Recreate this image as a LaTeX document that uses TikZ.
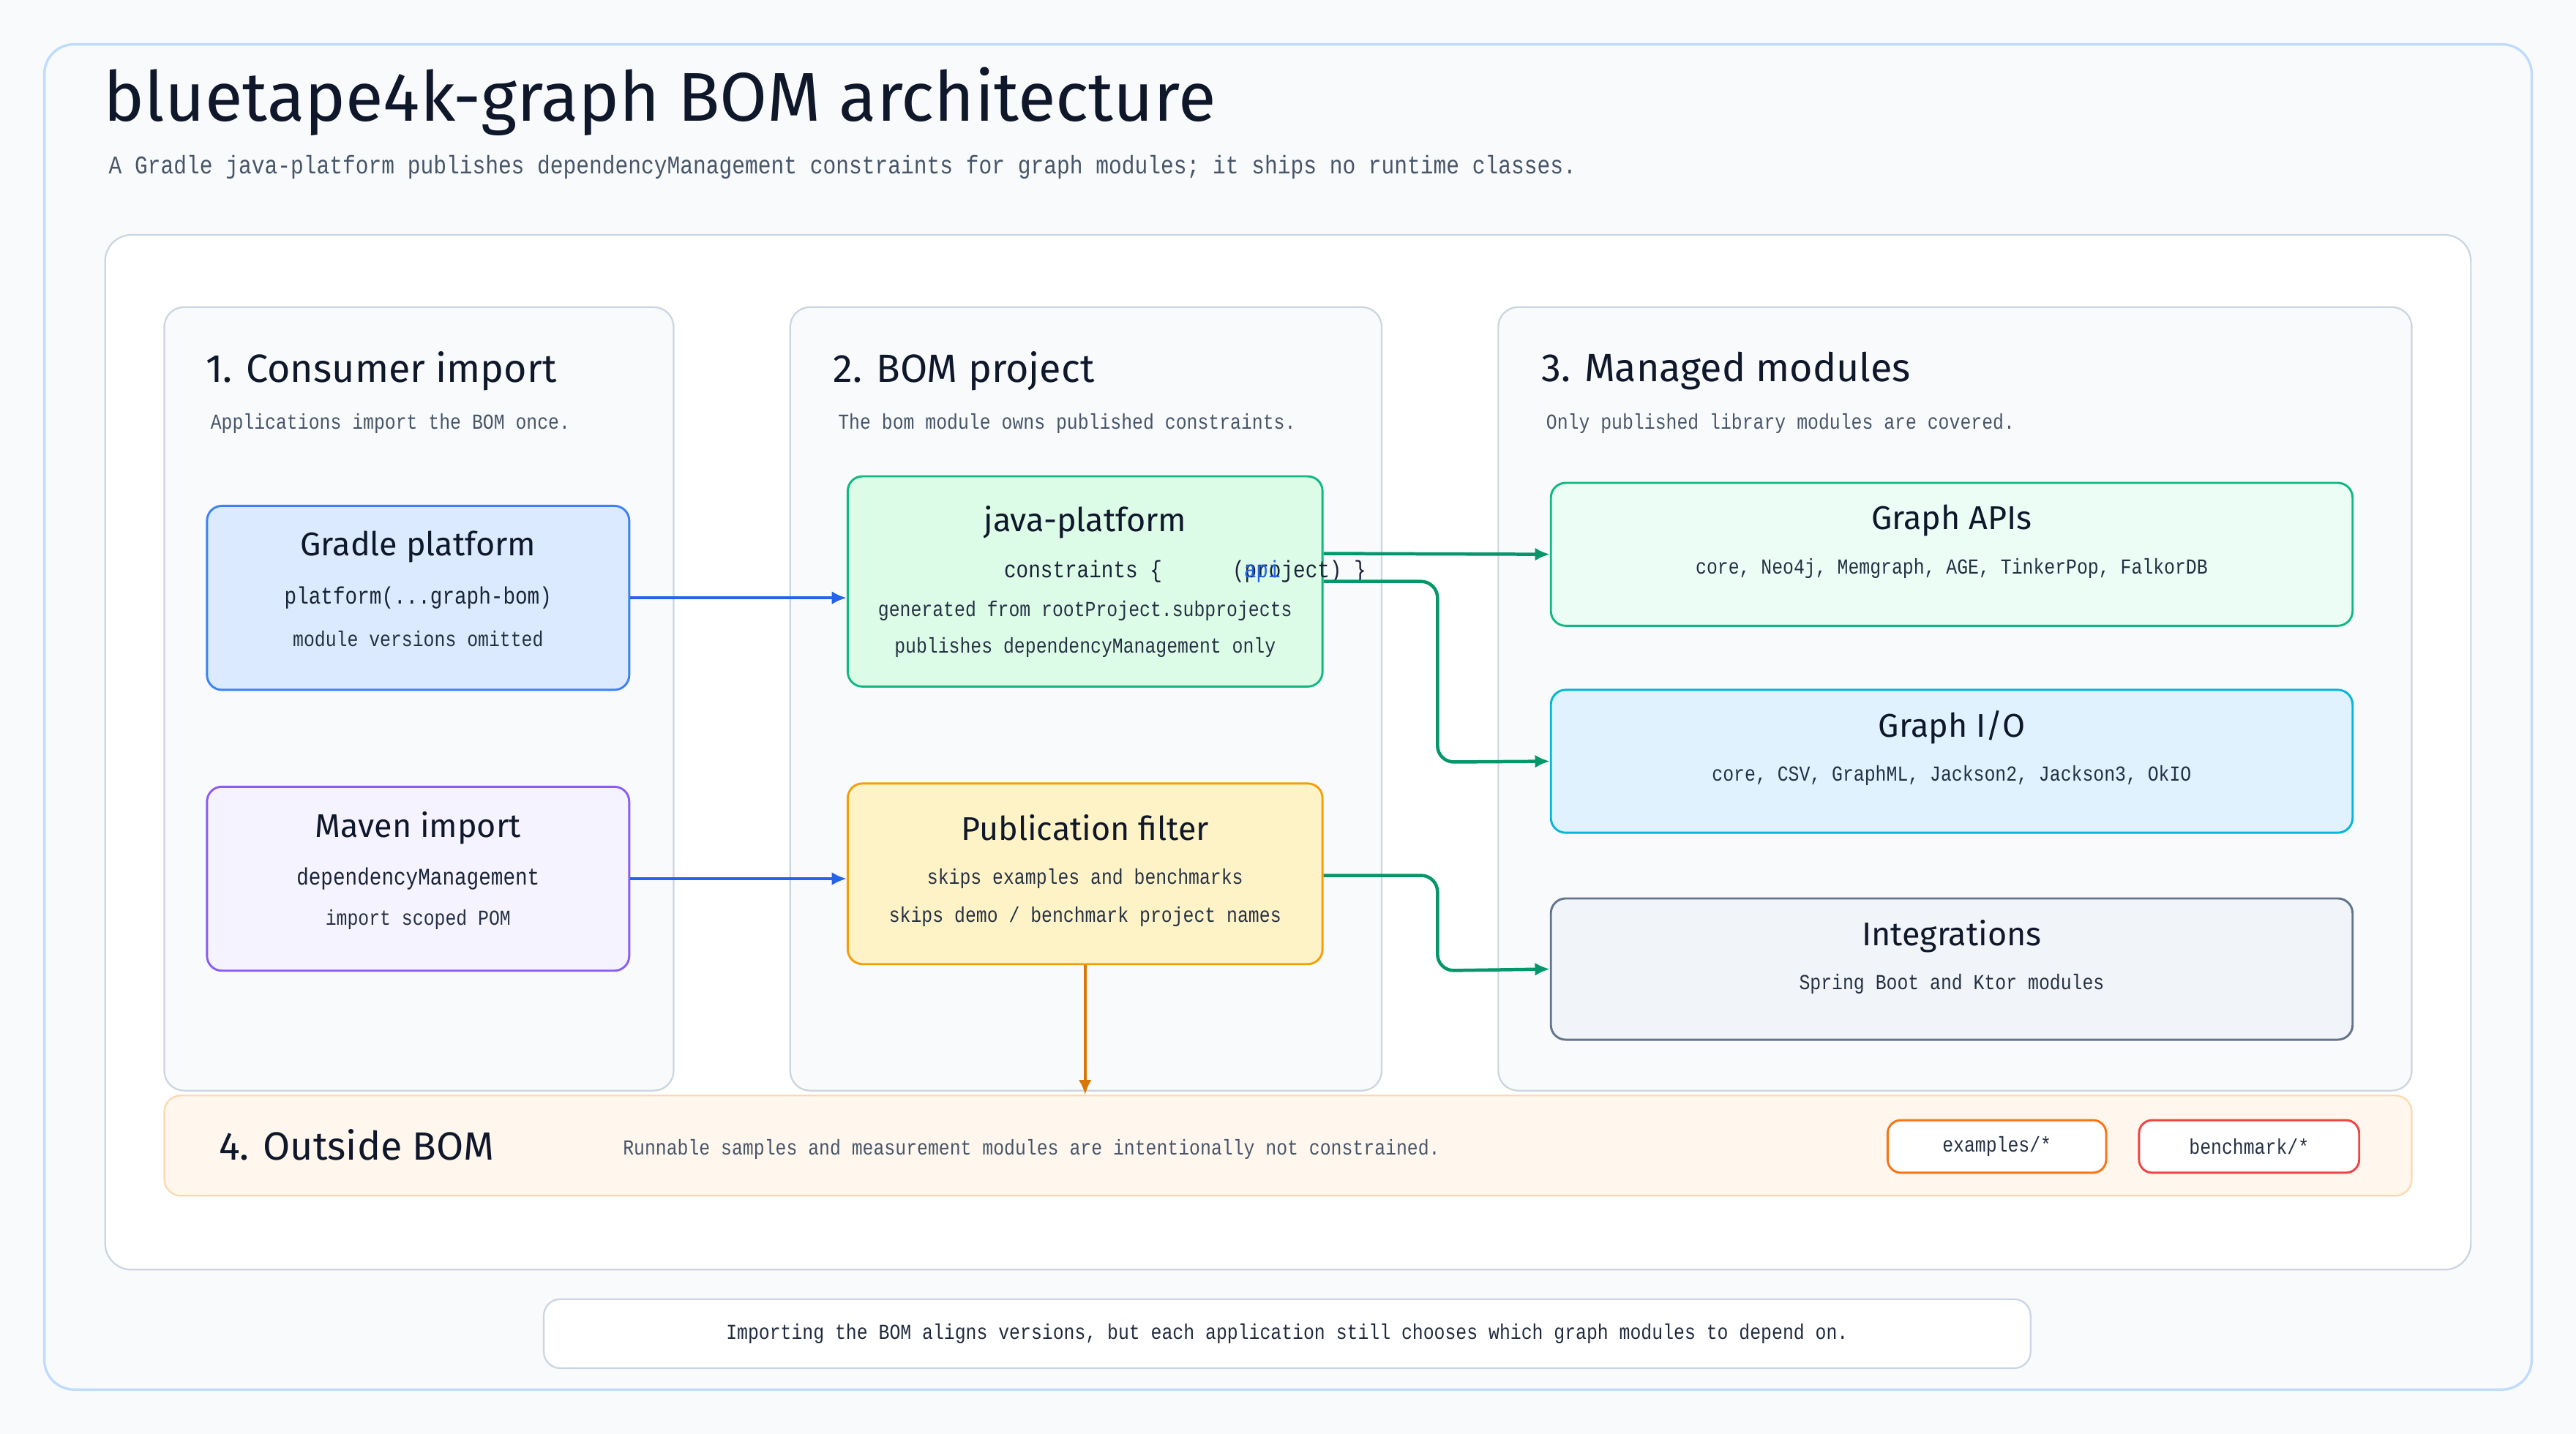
\documentclass[tikz,border=0pt]{standalone}
\usepackage{fontspec}
\setmainfont{Fira Sans}
\newfontfamily\hand{Fira Sans}
\newfontfamily\mono[FakeStretch=0.85]{Liberation Mono}
\usetikzlibrary{arrows.meta}
\definecolor{ink}{HTML}{0F172A}
\definecolor{sub}{HTML}{475569}
\definecolor{line}{HTML}{CBD5E1}
\definecolor{bg}{HTML}{F8FAFC}
\definecolor{frame}{HTML}{BFDBFE}
\definecolor{ablue}{HTML}{2563EB}
\definecolor{agreen}{HTML}{059669}
\definecolor{aorange}{HTML}{D97706}
\definecolor{bBlue}{HTML}{3B82F6}\definecolor{fBlue}{HTML}{DBEAFE}
\definecolor{bViolet}{HTML}{8B5CF6}\definecolor{fViolet}{HTML}{F5F3FF}
\definecolor{bGreen}{HTML}{10B981}\definecolor{fGreen}{HTML}{DCFCE7}
\definecolor{fMint}{HTML}{ECFDF5}
\definecolor{bAmber}{HTML}{F59E0B}\definecolor{fAmber}{HTML}{FEF3C7}
\definecolor{bCyan}{HTML}{06B6D4}\definecolor{fCyan}{HTML}{E0F2FE}
\definecolor{bSlate}{HTML}{64748B}\definecolor{fSlate}{HTML}{F1F5F9}
\definecolor{bPeach}{HTML}{FED7AA}\definecolor{fPeach}{HTML}{FFF7ED}
\definecolor{bOrange}{HTML}{F97316}\definecolor{bRed}{HTML}{EF4444}
\tikzset{
  box/.style={draw, rounded corners=9pt, line width=1.3pt, inner sep=0},
  col/.style={draw=line, fill=bg, rounded corners=12pt, line width=1pt},
  ttl/.style={font=\hand\fontsize{20}{22}\selectfont, text=ink, inner sep=0},
  hd/.style={font=\hand\fontsize{24}{28}\selectfont, text=ink, anchor=west, inner sep=0},
  csub/.style={font=\mono\fontsize{13}{15}\selectfont, text=sub, anchor=west, inner sep=0},
  mline/.style={font=\mono\fontsize{14.5}{17}\selectfont, text=ink!80!sub, inner sep=0},
  sline/.style={font=\mono\fontsize{13}{15}\selectfont, text=ink!60!sub, inner sep=0},
  arr/.style={line width=2pt, -{Latex[length=9pt,width=8pt]}, rounded corners=10pt},
}
\begin{document}
\begin{tikzpicture}[x=1pt,y=-1pt]
\useasboundingbox (0,0) rectangle (1568,873);
\fill[bg] (0,0) rectangle (1568,873);
\draw[frame, fill=bg, line width=1.5pt, rounded corners=18pt] (27,27) rectangle (1541,846);
\node[anchor=west, inner sep=0, font=\hand\fontsize{42}{46}\selectfont, text=ink] (title) at (63,62) {bluetape4k-graph BOM architecture};
\node[anchor=west, inner sep=0, font=\mono\fontsize{15.5}{18}\selectfont, text=sub] (subt) at (66,102) {A Gradle java-platform publishes dependencyManagement constraints for graph modules; it ships no runtime classes.};
\draw[line, fill=white, line width=1pt, rounded corners=16pt] (64,143) rectangle (1504,773);
% columns
\draw[col] (100,187) rectangle (410,664);
\draw[col] (481,187) rectangle (841,664);
\draw[col] (912,187) rectangle (1468,664);
\node[hd] (h1) at (125,226) {1. Consumer import};
\node[csub] (s1) at (128,258) {Applications import the BOM once.};
\node[hd] (h2) at (507,226) {2. BOM project};
\node[csub] (s2) at (510,258) {The bom module owns published constraints.};
\node[hd] (h3) at (938,226) {3. Managed modules};
\node[csub] (s3) at (941,258) {Only published library modules are covered.};
% column 1
\node[box, draw=bBlue, fill=fBlue, minimum width=257pt, minimum height=112pt] (gradle) at (254.5,364) {};
\node[ttl] (gt) at (254.5,333) {Gradle platform};
\node[mline] (g1) at (254.5,364) {platform(...graph-bom)};
\node[sline] (g2) at (254.5,389) {module versions omitted};
\node[box, draw=bViolet, fill=fViolet, minimum width=257pt, minimum height=112pt] (maven) at (254.5,535) {};
\node[ttl] (mt) at (254.5,504) {Maven import};
\node[mline] (m1) at (254.5,535) {dependencyManagement};
\node[sline] (m2) at (254.5,560) {import scoped POM};
% column 2
\node[box, draw=bGreen, fill=fGreen, minimum width=289pt, minimum height=128pt] (jp) at (660.5,354) {};
\node[ttl] (jt) at (660.5,318) {java-platform};
\node[mline, anchor=west] (j1) at (611,348) {constraints \{};
\node[mline, anchor=west] (j1b) at (750,348) {(project) \}};
\node[mline, anchor=west, text=ablue] (j1c) at (757,348) {api};
\node[sline] (j2) at (660.5,372) {generated from rootProject.subprojects};
\node[sline] (j3) at (660.5,394) {publishes dependencyManagement only};
\node[box, draw=bAmber, fill=fAmber, minimum width=289pt, minimum height=110pt] (pf) at (660.5,532) {};
\node[ttl] (pt) at (660.5,504) {Publication filter};
\node[sline] (p1) at (660.5,535) {skips examples and benchmarks};
\node[sline] (p2) at (660.5,558) {skips demo / benchmark project names};
% column 3
\node[box, draw=bGreen, fill=fMint, minimum width=488pt, minimum height=87pt] (api) at (1188,337.5) {};
\node[ttl] (at) at (1188,317) {Graph APIs};
\node[sline] (a1) at (1188,346) {core, Neo4j, Memgraph, AGE, TinkerPop, FalkorDB};
\node[box, draw=bCyan, fill=fCyan, minimum width=488pt, minimum height=87pt] (io) at (1188,463.5) {};
\node[ttl] (it) at (1188,443) {Graph I/O};
\node[sline] (i1) at (1188,472) {core, CSV, GraphML, Jackson2, Jackson3, OkIO};
\node[box, draw=bSlate, fill=fSlate, minimum width=488pt, minimum height=86pt] (integ) at (1188,590) {};
\node[ttl] (nt) at (1188,570) {Integrations};
\node[sline] (n1) at (1188,599) {Spring Boot and Ktor modules};
% outside band
\node[draw=bPeach, fill=fPeach, rounded corners=10pt, line width=1pt, minimum width=1368pt, minimum height=61pt, inner sep=0] (out) at (784,697.5) {};
\node[hd] (h4) at (133,697) {4. Outside BOM};
\node[csub] (o1) at (379,700) {Runnable samples and measurement modules are intentionally not constrained.};
\node[draw=bOrange, fill=white, rounded corners=8pt, line width=1.3pt, minimum width=133pt, minimum height=32pt, inner sep=0, font=\mono\fontsize{13}{15}\selectfont, text=ink!60!sub] (ex) at (1215.5,698) {examples/*};
\node[draw=bRed, fill=white, rounded corners=8pt, line width=1.3pt, minimum width=134pt, minimum height=32pt, inner sep=0, font=\mono\fontsize{13}{15}\selectfont, text=ink!60!sub] (bm) at (1369,698) {benchmark/*};
% footer
\node[draw=line, fill=white, rounded corners=10pt, line width=1pt, minimum width=905pt, minimum height=42pt, inner sep=0, font=\mono\fontsize{13}{15}\selectfont, text=ink!70!sub] (foot) at (783.5,812) {Importing the BOM aligns versions, but each application still chooses which graph modules to depend on.};
% arrows
\draw[arr, ablue] (gradle.east) -- (jp.west |- gradle.east);
\draw[arr, ablue] (maven.east) -- (pf.west |- maven.east);
\draw[arr, agreen] ([yshift=17pt]jp.east) -- (api.west);
\draw[arr, agreen] (jp.east) -- (875,354) -- (875,464) -- (io.west);
\draw[arr, agreen] ([yshift=-1pt]pf.east) -- (875,533) -- (875,591) -- (integ.west);
\draw[arr, aorange] (pf.south) -- (out.north -| pf.south);
\end{tikzpicture}
\end{document}
